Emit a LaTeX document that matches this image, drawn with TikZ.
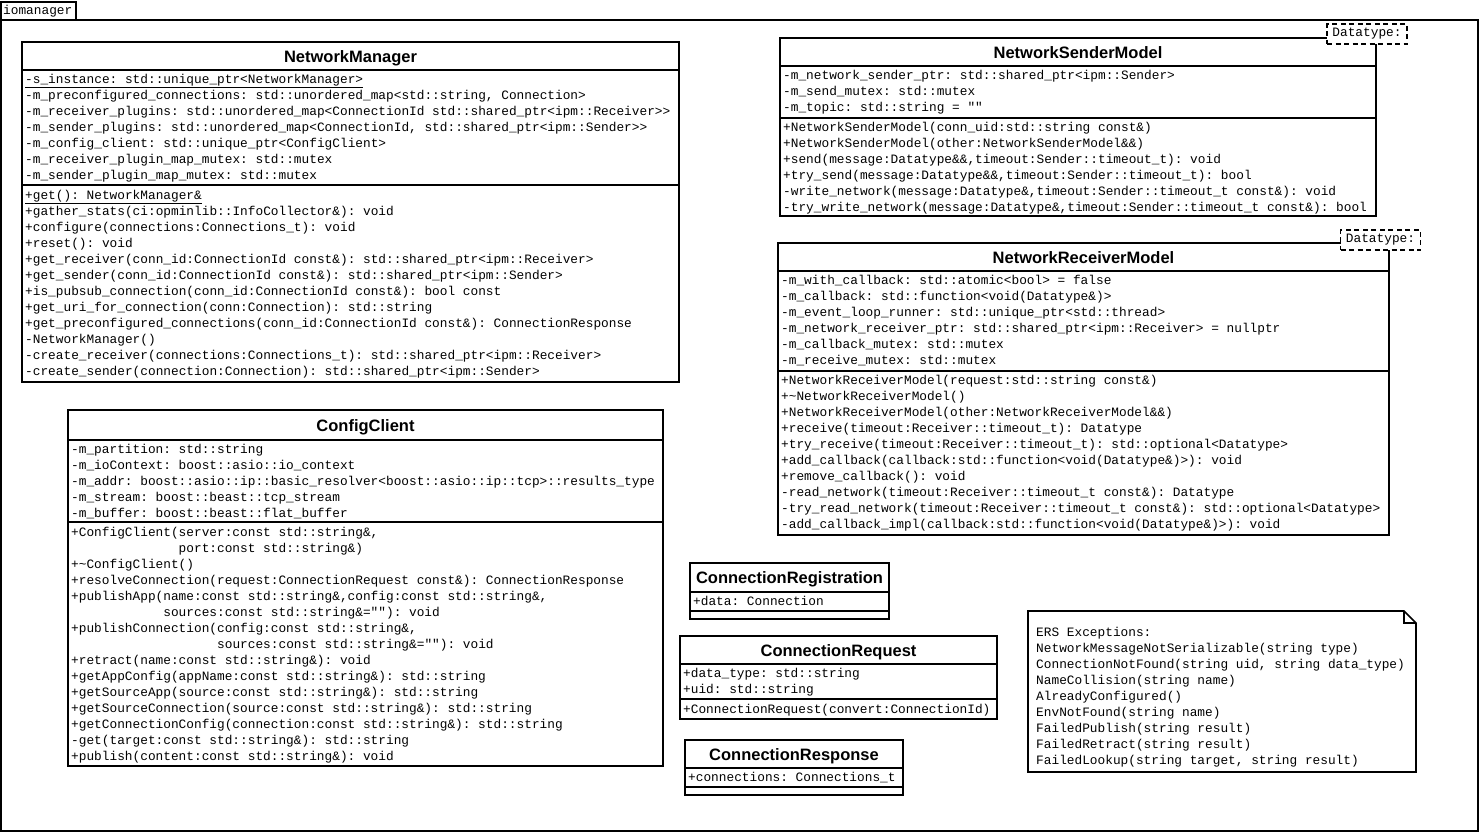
\documentclass[tikz,border=0pt]{standalone}
\usepackage{fontspec}
\setmainfont{Liberation Serif}
\setsansfont{Liberation Sans}
\setmonofont{Liberation Mono}
\begin{document}
\begin{tikzpicture}[x=1pt,y=-1pt,
    frame/.style={draw,line width=1.6pt},
    thin frame/.style={draw,line width=1.1pt},
    title/.style={anchor=base,inner sep=0pt,font=\sffamily\bfseries\fontsize{16.5}{20}\selectfont},
    members/.style={anchor=north west,inner sep=0pt,align=left,font=\ttfamily\fontsize{12.8}{16}\selectfont},
    template/.style={draw,fill=white,line width=1.3pt,dash pattern=on 5pt off 3.5pt,inner sep=0pt,
        minimum width=80pt,minimum height=20pt,font=\ttfamily\fontsize{12.8}{16}\selectfont}]
    \useasboundingbox (0,0) rectangle (1481,833);

    % Package
    \draw[frame] (1,20) rectangle (1478,831);
    \draw[thin frame] (1,2) rectangle (76,20);
    \node[members] (pkg) at (3,3.5) {\strut iomanager};

    % NetworkManager
    \draw[frame] (22,42) rectangle (679,382);
    \draw[frame] (22,70) -- (679,70);
    \draw[frame] (22,185) -- (679,185);
    \node[title] (nmTitle) at (350.5,62) {NetworkManager};
    \node[members] (nmAttr) at (25,72) {\strut\underline{-s\_instance: std::unique\_ptr<NetworkManager>}\\
        -m\_preconfigured\_connections: std::unordered\_map<std::string, Connection>\\
        -m\_receiver\_plugins: std::unordered\_map<ConnectionId std::shared\_ptr<ipm::Receiver>>\\
        -m\_sender\_plugins: std::unordered\_map<ConnectionId, std::shared\_ptr<ipm::Sender>>\\
        -m\_config\_client: std::unique\_ptr<ConfigClient>\\
        -m\_receiver\_plugin\_map\_mutex: std::mutex\\
        -m\_sender\_plugin\_map\_mutex: std::mutex};
    \node[members] (nmOps) at (25,188) {\strut\underline{+get(): NetworkManager\&}\\
        +gather\_stats(ci:opminlib::InfoCollector\&): void\\
        +configure(connections:Connections\_t): void\\
        +reset(): void\\
        +get\_receiver(conn\_id:ConnectionId const\&): std::shared\_ptr<ipm::Receiver>\\
        +get\_sender(conn\_id:ConnectionId const\&): std::shared\_ptr<ipm::Sender>\\
        +is\_pubsub\_connection(conn\_id:ConnectionId const\&): bool const\\
        +get\_uri\_for\_connection(conn:Connection): std::string\\
        +get\_preconfigured\_connections(conn\_id:ConnectionId const\&): ConnectionResponse\\
        -NetworkManager()\\
        -create\_receiver(connections:Connections\_t): std::shared\_ptr<ipm::Receiver>\\
        -create\_sender(connection:Connection): std::shared\_ptr<ipm::Sender>};

    % ConfigClient
    \draw[frame] (68,410) rectangle (663,766);
    \draw[frame] (68,440) -- (663,440);
    \draw[frame] (68,522) -- (663,522);
    \node[title] (ccTitle) at (365.5,431) {ConfigClient};
    \node[members] (ccAttr) at (71,442) {\strut -m\_partition: std::string\\
        -m\_ioContext: boost::asio::io\_context\\
        -m\_addr: boost::asio::ip::basic\_resolver<boost::asio::ip::tcp>::results\_type\\
        -m\_stream: boost::beast::tcp\_stream\\
        -m\_buffer: boost::beast::flat\_buffer};
    \node[members] (ccOps) at (71,525) {\strut +ConfigClient(server:const std::string\&,\\
        \phantom{+ConfigClient(}port:const std::string\&)\\
        +\textasciitilde ConfigClient()\\
        +resolveConnection(request:ConnectionRequest const\&): ConnectionResponse\\
        +publishApp(name:const std::string\&,config:const std::string\&,\\
        \phantom{+publishApp(}sources:const std::string\&=""): void\\
        +publishConnection(config:const std::string\&,\\
        \phantom{+publishConnection(}sources:const std::string\&=""): void\\
        +retract(name:const std::string\&): void\\
        +getAppConfig(appName:const std::string\&): std::string\\
        +getSourceApp(source:const std::string\&): std::string\\
        +getSourceConnection(source:const std::string\&): std::string\\
        +getConnectionConfig(connection:const std::string\&): std::string\\
        -get(target:const std::string\&): std::string\\
        +publish(content:const std::string\&): void};

    % NetworkSenderModel
    \draw[frame] (780,38) rectangle (1376,216);
    \draw[frame] (780,66) -- (1376,66);
    \draw[frame] (780,118) -- (1376,118);
    \node[title] (nsTitle) at (1078,58) {NetworkSenderModel};
    \node[template] (nsType) at (1367,34) {Datatype:};
    \node[members] (nsAttr) at (783,68) {\strut -m\_network\_sender\_ptr: std::shared\_ptr<ipm::Sender>\\
        -m\_send\_mutex: std::mutex\\
        -m\_topic: std::string = ""};
    \node[members] (nsOps) at (783,120) {\strut +NetworkSenderModel(conn\_uid:std::string const\&)\\
        +NetworkSenderModel(other:NetworkSenderModel\&\&)\\
        +send(message:Datatype\&\&,timeout:Sender::timeout\_t): void\\
        +try\_send(message:Datatype\&\&,timeout:Sender::timeout\_t): bool\\
        -write\_network(message:Datatype\&,timeout:Sender::timeout\_t const\&): void\\
        -try\_write\_network(message:Datatype\&,timeout:Sender::timeout\_t const\&): bool};

    % NetworkReceiverModel
    \draw[frame] (778,243) rectangle (1389,535);
    \draw[frame] (778,271) -- (1389,271);
    \draw[frame] (778,371) -- (1389,371);
    \node[title] (nrTitle) at (1083.5,263) {NetworkReceiverModel};
    \node[template] (nrType) at (1380.5,240) {Datatype:};
    \node[members] (nrAttr) at (781,273) {\strut -m\_with\_callback: std::atomic<bool> = false\\
        -m\_callback: std::function<void(Datatype\&)>\\
        -m\_event\_loop\_runner: std::unique\_ptr<std::thread>\\
        -m\_network\_receiver\_ptr: std::shared\_ptr<ipm::Receiver> = nullptr\\
        -m\_callback\_mutex: std::mutex\\
        -m\_receive\_mutex: std::mutex};
    \node[members] (nrOps) at (781,373) {\strut +NetworkReceiverModel(request:std::string const\&)\\
        +\textasciitilde NetworkReceiverModel()\\
        +NetworkReceiverModel(other:NetworkReceiverModel\&\&)\\
        +receive(timeout:Receiver::timeout\_t): Datatype\\
        +try\_receive(timeout:Receiver::timeout\_t): std::optional<Datatype>\\
        +add\_callback(callback:std::function<void(Datatype\&)>): void\\
        +remove\_callback(): void\\
        -read\_network(timeout:Receiver::timeout\_t const\&): Datatype\\
        -try\_read\_network(timeout:Receiver::timeout\_t const\&): std::optional<Datatype>\\
        -add\_callback\_impl(callback:std::function<void(Datatype\&)>): void};

    % ConnectionRegistration
    \draw[frame] (690,563) rectangle (889,619);
    \draw[frame] (690,592) -- (889,592);
    \draw[frame] (690,611) -- (889,611);
    \node[title] (regTitle) at (789.5,583) {ConnectionRegistration};
    \node[members] (regAttr) at (693,594) {\strut +data: Connection};

    % ConnectionRequest
    \draw[frame] (680,636) rectangle (997,719);
    \draw[frame] (680,664) -- (997,664);
    \draw[frame] (680,699) -- (997,699);
    \node[title] (reqTitle) at (838.5,656) {ConnectionRequest};
    \node[members] (reqAttr) at (683,666) {\strut +data\_type: std::string\\
        +uid: std::string};
    \node[members] (reqOps) at (683,702) {\strut +ConnectionRequest(convert:ConnectionId)};

    % ConnectionResponse
    \draw[frame] (685,740) rectangle (903,795);
    \draw[frame] (685,768) -- (903,768);
    \draw[frame] (685,787) -- (903,787);
    \node[title] (resTitle) at (794,760) {ConnectionResponse};
    \node[members] (resAttr) at (688,770) {\strut +connections: Connections\_t};

    % Note
    \draw[frame] (1028,611) -- (1404,611) -- (1416,623) -- (1416,772) -- (1028,772) -- cycle;
    \draw[thin frame] (1404,611) -- (1404,623) -- (1416,623);
    \node[members] (ersNote) at (1036,625) {\strut ERS Exceptions:\\
        NetworkMessageNotSerializable(string type)\\
        ConnectionNotFound(string uid, string data\_type)\\
        NameCollision(string name)\\
        AlreadyConfigured()\\
        EnvNotFound(string name)\\
        FailedPublish(string result)\\
        FailedRetract(string result)\\
        FailedLookup(string target, string result)};
\end{tikzpicture}
\end{document}
